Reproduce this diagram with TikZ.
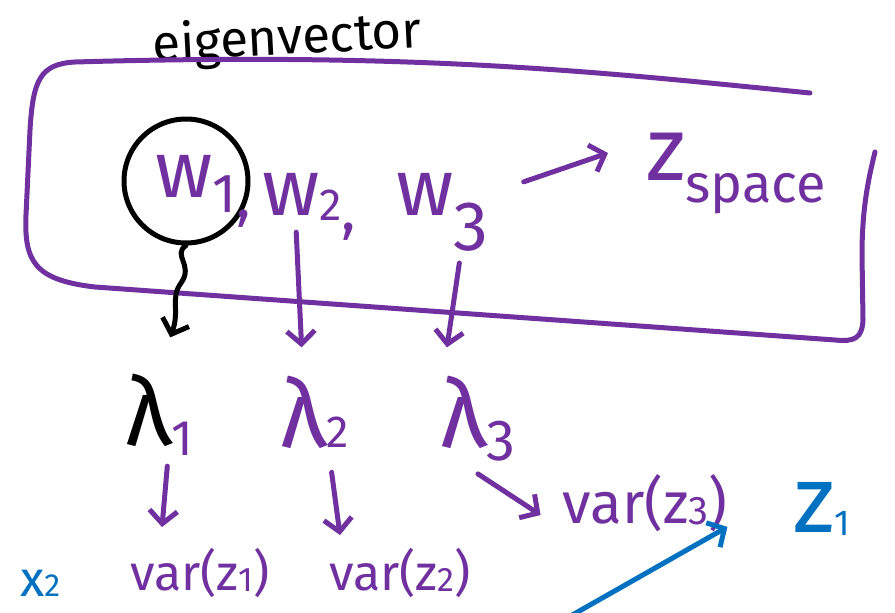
\documentclass[tikz,border=0pt]{standalone}
\usepackage{fontspec}
\setmainfont{Fira Sans}
\usetikzlibrary{arrows.meta,calc}
\definecolor{pur}{HTML}{7030A0}
\definecolor{blu}{HTML}{0070C0}
\newcommand\lowsub[2][3pt]{\raisebox{-#1}{#2}}
\newcommand\fs[1]{\fontsize{#1}{#1}\selectfont}
\begin{document}
\begin{tikzpicture}[x=1pt,y=-1pt,
  stroke/.style={line width=5pt,line cap=round,line join=round},
  lab/.style={inner sep=0pt,text=pur},
  tip/.style={-{Straight Barb[length=13pt,width=28pt]}},
  parrow/.style={stroke,draw=pur,tip},
  karrow/.style={stroke,draw=black,tip},
  barrow/.style={stroke,draw=blu,tip}]
\useasboundingbox (0,0) rectangle (895,613);

% title
\node[inner sep=0pt,font=\fs{51},rotate=3] (title) at (287,40) {eigenvector};

% purple box
\draw[stroke,draw=pur] (810,93) .. controls (600,72) and (420,52) .. (75,62)
  .. controls (40,64) and (33,80) .. (30,130) -- (26,215)
  .. controls (24,262) and (35,280) .. (95,287) -- (835,340)
  .. controls (855,342) and (862,338) .. (863,320) -- (862,255)
  .. controls (862,210) and (868,180) .. (875,152);

% circle around w1
\node[draw,circle,stroke,minimum size=124pt,inner sep=0pt] (c1) at (186,181) {};

% w's
\node[lab,anchor=base west] (w1) at (155,197) {{\fs{80}w}\lowsub[15pt]{\fs{55}1}\lowsub[20pt]{\fs{60},}};
\node[lab,anchor=base west] (w2) at (262,215) {{\fs{80}w}\lowsub[5pt]{\fs{45}2}\lowsub[15pt]{\fs{60},}};
\node[lab,anchor=base west] (w3) at (396,215) {{\fs{80}w}\lowsub[35pt]{\fs{70}3}};

% z space
\node[lab,anchor=base west] (zsp) at (646,180) {{\fs{90}z}\lowsub[22pt]{\fs{54}space}};
\draw[parrow] ($(w3.east)+(35,-30)$) -- ($(zsp.west)+(-38,-20)$);

% lambdas
\node[lab,anchor=base west] (l1) at (125,445) {{\color{black}\fs{95}λ}\lowsub[10pt]{\fs{50}1}};
\node[lab,anchor=base west] (l2) at (280,447) {{\fs{95}λ}\lowsub[0pt]{\fs{45}2}};
\node[lab,anchor=base west] (l3) at (440,447) {{\fs{95}λ}\lowsub[13pt]{\fs{58}3}};

% arrows eigenvector -> lambda
\draw[karrow] (c1.south) .. controls (172,255) and (194,265) .. (181,283)
  .. controls (170,298) and (180,310) .. ($(l1.north)+(11,-36)$);
\draw[parrow] ($(w2.south)+(-13,-8)$) -- ($(l2.north)+(-13,-28)$);
\draw[parrow] ($(w3.south)+(17,12)$) -- ($(l3.north)+(-31,-28)$);

% variances
\node[lab,font=\fs{50}] (v1) at (200,573) {var(z\lowsub[1pt]{\fs{34}1})};
\node[lab,font=\fs{50}] (v2) at (400,573) {var(z\lowsub[1pt]{\fs{34}2})};
\node[lab,font=\fs{58}] (v3) at (645,503) {var(z\lowsub[1pt]{\fs{40}3})};

\draw[parrow] ($(l1.south)+(8,11)$) -- ($(v1.north)+(-38,-21)$);
\draw[parrow] ($(l2.south)+(17,24)$) -- ($(v2.north)+(-60,-13)$);
\draw[parrow] ($(l3.south)+(0,13)$) -- ($(v3.west)+(-22,12)$);

% blue
\node[inner sep=0pt,text=blu,anchor=base west] (zb) at (793,532) {{\fs{95}z}\lowsub[3pt]{\fs{36}1}};
\node[inner sep=0pt,text=blu,anchor=base west] (xb) at (20,596) {{\fs{50}x}{\fs{32}2}};
\coordinate (bstart) at (560,622);
\draw[barrow] (bstart) -- ($(v3.south east)+(0,-5)$);
\end{tikzpicture}
\end{document}
